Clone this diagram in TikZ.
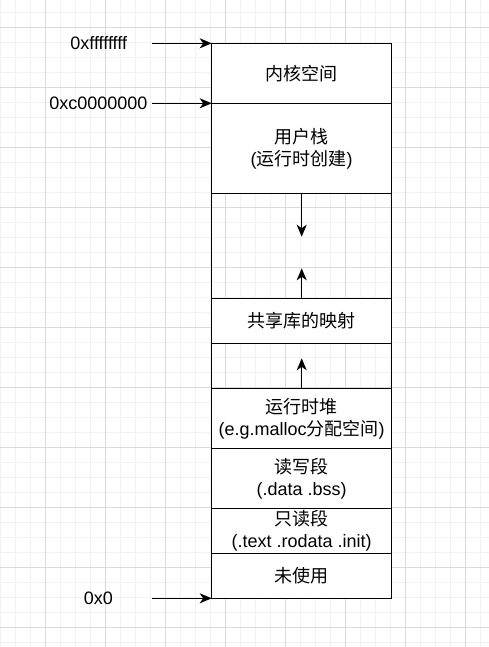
\documentclass[tikz,border=0pt]{standalone}
\usepackage{fontspec}
\setmainfont{Liberation Sans}
\newfontfamily\cjkfont{Noto Sans CJK SC}
\usetikzlibrary{arrows.meta,positioning}
\definecolor{gridmajor}{HTML}{DADADA}
\definecolor{gridminor}{HTML}{F2F2F2}

\begin{document}
\begin{tikzpicture}[x=1pt,y=-1pt,->,>={Stealth[length=12pt,width=10pt,inset=3.5pt]},line width=1.3pt,
        seg/.style={draw=black,fill=white,minimum width=180pt,inner sep=0pt,outer sep=0pt,align=center,font=\fontsize{18}{22}\selectfont},
        gap/.style={seg,fill=none},
        addr/.style={font=\fontsize{18}{22}\selectfont}]
                \useasboundingbox (0,0) rectangle (489,647);
                % grid
                \foreach \i in {0,...,32} \draw[-,line width=1pt,gridminor] (0.5+15*\i,0) -- (0.5+15*\i,647);
                \foreach \j in {0,...,42} \draw[-,line width=1pt,gridminor] (0,12.3+15*\j) -- (489,12.3+15*\j);
                \foreach \i in {0,...,7} \draw[-,line width=1pt,gridmajor] (45.5+60*\i,0) -- (45.5+60*\i,647);
                \foreach \j in {0,...,10} \draw[-,line width=1pt,gridmajor] (0,27.3+60*\j) -- (489,27.3+60*\j);
                % memory segments
                \node[seg,minimum height=60pt](kernel)at(301.7,73.3){{\cjkfont 内核空间}};
                \node[seg,minimum height=90pt,below=0pt of kernel](ustack){{\cjkfont 用户栈}\\({\cjkfont 运行时创建})};
                \node[gap,minimum height=105pt,below=0pt of ustack](gapa){};
                \node[seg,minimum height=45pt,below=0pt of gapa](shlib){{\cjkfont 共享库的映射}};
                \node[gap,minimum height=45pt,below=0pt of shlib](gapb){};
                \node[seg,minimum height=60pt,below=0pt of gapb](heap){{\cjkfont 运行时堆}\\(e.g.malloc{\cjkfont 分配空间})};
                \node[seg,minimum height=60pt,below=0pt of heap](rw){{\cjkfont 读写段}\\(.data .bss)};
                \node[seg,minimum height=45pt,below=0pt of rw](ro){{\cjkfont 只读段}\\(.text .rodata .init)};
                \node[seg,minimum height=45pt,below=0pt of ro](unused){{\cjkfont 未使用}};
                % growth arrows
                \coordinate[below=43.4pt of ustack.south](stacktip);
                \coordinate[above=30pt of shlib.north](libtip);
                \coordinate[above=30pt of heap.north](heaptip);
                \path[](ustack.south) edge (stacktip)
                (shlib.north) edge (libtip)
                (heap.north) edge (heaptip);
                % addresses
                \node[addr](top)at(98.7,43.3){0xffffffff};
                \node[addr](ubase)at(98.3,103.3){0xc0000000};
                \node[addr](zero)at(98.3,598.3){0x0};
                \coordinate(topfrom)at(151.7,43.3);
                \coordinate(ubasefrom)at(151.7,103.3);
                \coordinate(zerofrom)at(151.7,598.3);
                \path[](topfrom) edge (kernel.north west)
                (ubasefrom) edge (ustack.north west)
                (zerofrom) edge (unused.south west);
            \end{tikzpicture}
\end{document}
